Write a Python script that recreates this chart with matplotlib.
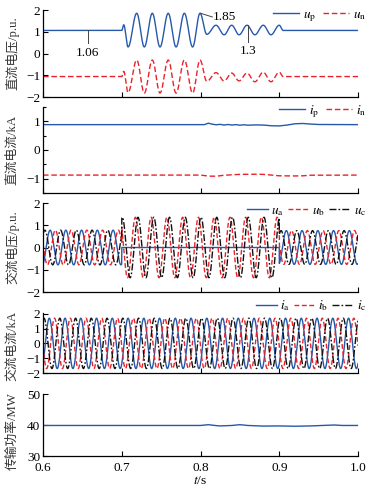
import numpy as np
import matplotlib
matplotlib.use("Agg")
import matplotlib.pyplot as plt

plt.rcParams['font.family'] = ['Liberation Serif', 'Noto Sans CJK SC']
plt.rcParams['mathtext.fontset'] = 'stix'
plt.rcParams['axes.unicode_minus'] = True

BLUE = '#2658ab'
RED = '#e8232b'
BLACK = '#111111'

# ---------------- data ----------------
x_ticks = [0.6, 0.7, 0.8, 0.9, 1.0]

# DC pole voltages: extrema (time s, value p.u.)
up_t = [0.600, 0.700, 0.7025, 0.708, 0.719, 0.7287, 0.7388, 0.7486, 0.759, 0.769,
        0.7795, 0.790, 0.7994, 0.808, 0.8197, 0.830, 0.8396, 0.849, 0.859, 0.869,
        0.8797, 0.8895, 0.900, 0.905, 1.000]
up_v = [1.06, 1.06, 1.32, 0.30, 1.85, 0.30, 1.85, 0.30, 1.85, 0.30,
        1.85, 0.30, 1.85, 0.88, 1.30, 0.86, 1.30, 0.86, 1.30, 0.86,
        1.30, 0.86, 1.30, 1.06, 1.06]
un_t = up_t
un_v = [-1.06, -1.06, -0.82, -1.80, -0.30, -1.82, -0.30, -1.82, -0.30, -1.82,
        -0.30, -1.82, -0.30, -1.28, -0.88, -1.26, -0.90, -1.26, -0.90, -1.30,
        -0.86, -1.30, -0.86, -1.06, -1.06]

# DC pole currents (kA)
ip_t = [0.60, 0.805, 0.81, 0.815, 0.82, 0.825, 0.83, 0.835, 0.84, 0.845, 0.85, 0.855,
        0.86, 0.87, 0.88, 0.89, 0.90, 0.91, 0.92, 0.93, 0.94, 0.95, 1.00]
ip_v = [0.885, 0.885, 0.935, 0.90, 0.88, 0.895, 0.87, 0.89, 0.87, 0.885, 0.865, 0.88,
        0.865, 0.875, 0.87, 0.845, 0.84, 0.87, 0.915, 0.925, 0.905, 0.89, 0.885]
in_t = [0.60, 0.80, 0.81, 0.82, 0.83, 0.85, 0.87, 0.88, 0.89, 0.90, 0.92, 0.93, 0.94, 1.00]
in_v = [-0.875, -0.875, -0.91, -0.915, -0.88, -0.85, -0.845, -0.85, -0.875, -0.90,
        -0.905, -0.90, -0.88, -0.875]

# AC side: segments (pre-fault, fault, post-fault), peak amplitude and phase lag (deg)
seg_edges = [0.6, 0.7, 0.9, 1.0]
ua_amp = [0.78, 0.00, 0.76]
ub_amp = [0.78, 1.36, 0.76]
uc_amp = [0.78, 1.36, 0.76]
ua_lag = [0, 0, 0]
ub_lag = [120, 150, 120]
uc_lag = [240, 210, 240]
u_peak_time = 0.609
ac_freq = 50.0

ia_amp = [1.70, 1.70, 1.70]
ib_amp = [1.70, 1.70, 1.70]
ic_amp = [1.70, 1.70, 1.70]
ia_lag = [0, 0, 0]
ib_lag = [120, 120, 120]
ic_lag = [240, 240, 240]
i_peak_time = 0.608

# transmitted power (MW)
p_t = [0.60, 0.80, 0.81, 0.82, 0.825, 0.84, 0.85, 0.86, 0.88, 0.90, 0.92, 0.94, 0.97, 0.98, 1.00]
p_v = [39.85, 39.85, 40.1, 39.8, 39.7, 39.85, 40.1, 39.85, 39.65, 39.7, 39.6, 39.7, 40.0, 39.85, 39.85]


# ---------------- helpers ----------------
def smooth_extrema(tk, vk, n=30):
    ts, vs = [], []
    for i in range(len(tk) - 1):
        s = np.linspace(0, 1, n, endpoint=False)
        ts.append(tk[i] + (tk[i + 1] - tk[i]) * s)
        vs.append(vk[i] + (vk[i + 1] - vk[i]) * (1 - np.cos(np.pi * s)) / 2)
    ts.append([tk[-1]]); vs.append([vk[-1]])
    return np.concatenate(ts), np.concatenate(vs)


def ac_wave(t, amps, lags, tpk):
    y = np.zeros_like(t)
    for i in range(len(seg_edges) - 1):
        m = (t >= seg_edges[i]) & (t <= seg_edges[i + 1])
        y[m] = amps[i] * np.cos(2 * np.pi * ac_freq * (t[m] - tpk) - np.deg2rad(lags[i]))
    return y


# ---------------- figure ----------------
W, H = 372, 494
fig = plt.figure(figsize=(W / 100, H / 100), dpi=100)
left = 43 / W
width = (358 - 43) / W
rows = [(10, 97), (107, 193), (203, 292), (313, 373), (394, 456)]
axes = []
for top, bot in rows:
    axes.append(fig.add_axes([left, 1 - bot / H, width, (bot - top) / H]))

TICK_FS = 9.5
LAB_FS = 9.2
LEG_FS = 9.5
LABEL_X = -0.097

for ax in axes:
    ax.spines['top'].set_visible(False)
    ax.spines['right'].set_visible(False)
    ax.set_xlim(0.6, 1.0)
    ax.set_xticks(x_ticks)
    ax.tick_params(direction='in', length=3.5, width=0.8, labelsize=TICK_FS, pad=2)
    ax.tick_params(which='minor', direction='in', length=2.5, width=0.8)
    for s in ('left', 'bottom'):
        ax.spines[s].set_linewidth(0.9)

for ax in axes[:-1]:
    ax.tick_params(labelbottom=False)


def ylab(ax, txt, ypos=0.5):
    ax.set_ylabel(txt, fontsize=LAB_FS, va='center', ha='center', color='#333333')
    ax.yaxis.set_label_coords(LABEL_X, ypos)


lw = 1.0
# Panel 1: DC voltage
ax = axes[0]
t1, v1 = smooth_extrema(up_t, up_v)
t2, v2 = smooth_extrema(un_t, un_v)
ax.plot(t1, v1, color=BLUE, lw=lw, label=r'$u_\mathrm{p}$')
ax.plot(t2, v2, color=RED, lw=lw, ls=(0, (4, 2)), label=r'$u_\mathrm{n}$')
ax.set_ylim(-2, 2)
ax.set_yticks([-2, -1, 0, 1, 2])
ylab(ax, '直流电压/p.u.')
ax.plot([0.657, 0.657], [1.06, 0.46], color='#444444', lw=0.7)
ax.text(0.657, 0.28, '1.06', ha='center', va='top', fontsize=TICK_FS)
ax.plot([0.8, 0.815], [1.85, 1.68], color='#444444', lw=0.7)
ax.text(0.816, 1.70, '1.85', ha='left', va='center', fontsize=TICK_FS)
ax.plot([0.8605, 0.8605], [1.30, 0.52], color='#444444', lw=0.7)
ax.text(0.8605, 0.40, '1.3', ha='center', va='top', fontsize=TICK_FS)
ax.legend(loc='center right', bbox_to_anchor=(1.03, 0.93), ncol=2, frameon=False,
          fontsize=LEG_FS, handlelength=2.0, handletextpad=0.3, columnspacing=0.5,
          borderpad=0.1, borderaxespad=0)

# Panel 2: DC current
ax = axes[1]
ax.plot(ip_t, ip_v, color=BLUE, lw=lw, label=r'$i_\mathrm{p}$')
ax.plot(in_t, in_v, color=RED, lw=lw, ls=(0, (4, 2)), label=r'$i_\mathrm{n}$')
ax.set_ylim(-1.5, 1.5)
ax.set_yticks([-1, 0, 1])
ax.set_yticks([-1.5, -0.5, 0.5, 1.5], minor=True)
ylab(ax, '直流电流/kA')
ax.legend(loc='center right', bbox_to_anchor=(1.03, 0.95), ncol=2, frameon=False,
          fontsize=LEG_FS, handlelength=2.0, handletextpad=0.3, columnspacing=0.5,
          borderpad=0.1, borderaxespad=0)

# Panel 3: AC voltage
t = np.linspace(0.6, 1.0, 4001)
ax = axes[2]
ax.plot(t, ac_wave(t, ua_amp, ua_lag, u_peak_time), color=BLUE, lw=lw, label=r'$u_\mathrm{a}$')
ax.plot(t, ac_wave(t, ub_amp, ub_lag, u_peak_time), color=RED, lw=lw, ls=(0, (3.5, 1.8)), label=r'$u_\mathrm{b}$')
ax.plot(t, ac_wave(t, uc_amp, uc_lag, u_peak_time), color=BLACK, lw=lw, ls=(0, (5, 1.5, 1.2, 1.5)), label=r'$u_\mathrm{c}$')
ax.set_ylim(-2, 2)
ax.set_yticks([-2, -1, 0, 1, 2])
ylab(ax, '交流电压/p.u.')
ax.legend(loc='center right', bbox_to_anchor=(1.03, 0.91), ncol=3, frameon=False,
          fontsize=LEG_FS, handlelength=1.6, handletextpad=0.25, columnspacing=0.3,
          borderpad=0.1, borderaxespad=0)

# Panel 4: AC current
ax = axes[3]
ax.plot(t, ac_wave(t, ia_amp, ia_lag, i_peak_time), color=BLUE, lw=lw, label=r'$i_\mathrm{a}$')
ax.plot(t, ac_wave(t, ib_amp, ib_lag, i_peak_time), color=RED, lw=lw, ls=(0, (3.5, 1.8)), label=r'$i_\mathrm{b}$')
ax.plot(t, ac_wave(t, ic_amp, ic_lag, i_peak_time), color=BLACK, lw=lw, ls=(0, (5, 1.5, 1.2, 1.5)), label=r'$i_\mathrm{c}$')
ax.set_ylim(-2, 2.05)
ax.set_yticks([-2, -1, 0, 1, 2])
ylab(ax, '交流电流/kA', 0.45)
ax.legend(loc='center right', bbox_to_anchor=(1.03, 1.12), ncol=3, frameon=False,
          fontsize=LEG_FS, handlelength=1.6, handletextpad=0.25, columnspacing=0.3,
          borderpad=0.1, borderaxespad=0)

# Panel 5: power
ax = axes[4]
ax.plot(p_t, p_v, color=BLUE, lw=lw)
ax.set_ylim(30, 50)
ax.set_yticks([30, 40, 50])
ylab(ax, '传输功率/MW', 0.4)
ax.set_xticklabels(['0.6', '0.7', '0.8', '0.9', '1.0'])
ax.tick_params(axis='x', pad=4)
ax.set_xlabel(r'$t$/s', fontsize=LAB_FS + 0.5, labelpad=1)

fig.savefig('out.png', dpi=100)
